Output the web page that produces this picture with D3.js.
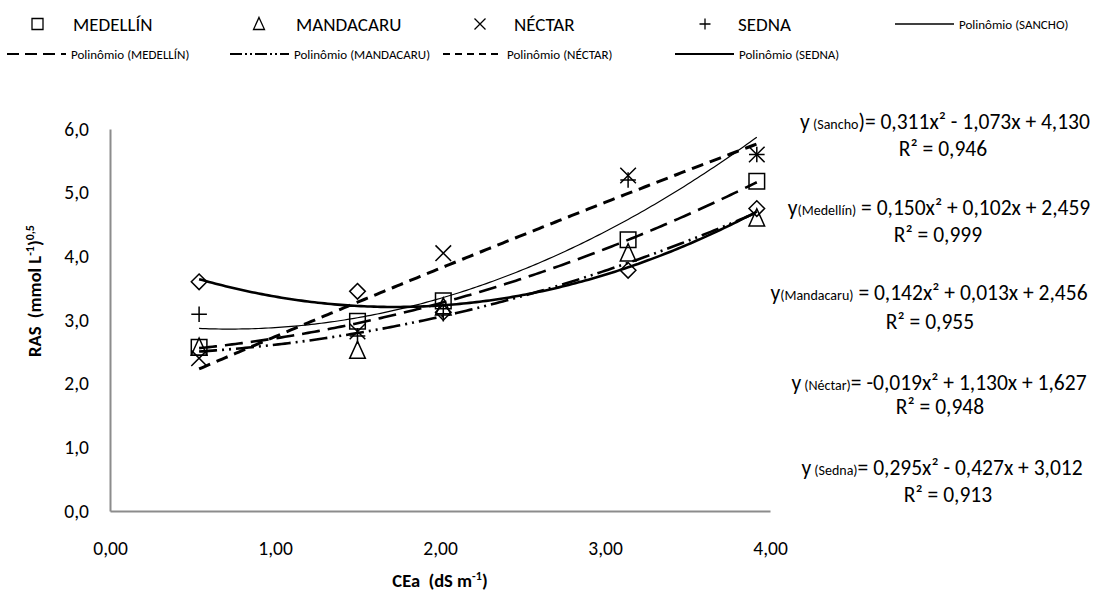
<!DOCTYPE html>
<html>
<head>
<meta charset="utf-8">
<script src="https://cdn.jsdelivr.net/npm/d3@7"></script>
<style>
  body { margin: 0; background: #fff; }
  svg { font-family: Carlito, Lato, sans-serif; }
  text { white-space: pre; }
</style>
</head>
<body>
<div id="chart"></div>
<script>
// CEa levels (dS m-1)
const cea = [0.54, 1.50, 2.02, 3.14, 3.92];

// RAS values
const medellin  = [2.57, 2.98, 3.30, 4.26, 5.18];
const mandacaru = [2.57, 2.52, 3.20, 4.05, 4.60];
const nectar    = [2.40, 2.82, 4.05, 5.27, 5.60];
const sedna     = [3.09, 2.75, 3.10, 5.20, 5.60];
const sancho    = [3.60, 3.45, 3.12, 3.78, 4.75];

// trendline coefficients [a, b, c] for y = a x^2 + b x + c
const coefSancho    = [0.311, -1.073, 4.130];
const coefMedellin  = [0.150, 0.102, 2.459];
const coefMandacaru = [0.142, 0.013, 2.456];
const coefNectar    = [-0.019, 1.130, 1.627];
const coefSedna     = [0.295, -0.427, 3.012];

const xTicks = [0, 1, 2, 3, 4];
const yTicks = [0, 1, 2, 3, 4, 5, 6];

const width = 1105, height = 591;
const x0 = 110, x1 = 770, yBottom = 511, yTop = 129;

const svg = d3.select("#chart").append("svg")
    .attr("width", width)
    .attr("height", height);

const xScale = d3.scaleLinear().domain([0, 4]).range([x0, x1]);
const yScale = d3.scaleLinear().domain([0, 6]).range([yBottom, yTop]);

// decimal comma, plain hyphen for minus
const comma = (f) => (v) => d3.format(f)(v).replace(".", ",").replace("−", "-");

// axes (no tick marks, gray lines)
const xAxis = svg.append("g")
    .attr("transform", `translate(0,${yBottom})`)
    .call(d3.axisBottom(xScale).tickValues(xTicks).tickFormat(comma(".2f")).tickSize(0).tickPadding(30));
const yAxis = svg.append("g")
    .attr("transform", `translate(${x0},0)`)
    .call(d3.axisLeft(yScale).tickValues(yTicks).tickFormat(comma(".1f")).tickSize(0).tickPadding(21));

[xAxis, yAxis].forEach(g => {
    g.select(".domain").attr("stroke", "#8c8c8c").attr("stroke-width", 2);
    g.selectAll("text").attr("font-family", "Carlito, Lato, sans-serif")
        .attr("font-size", 19.5).attr("fill", "#000");
});

// axis titles
const xt = svg.append("text")
    .attr("x", (x0 + x1) / 2)
    .attr("y", 587)
    .attr("text-anchor", "middle")
    .attr("font-weight", "bold")
    .attr("font-size", 18.5);
xt.append("tspan").text("CEa  (dS m");
xt.append("tspan").attr("font-size", 12).attr("baseline-shift", "super").text("-1");
xt.append("tspan").text(")");

const yt = svg.append("text")
    .attr("transform", `translate(41,291) rotate(-90)`)
    .attr("text-anchor", "middle")
    .attr("font-weight", "bold")
    .attr("font-size", 18.5);
yt.append("tspan").text("RAS  (mmol L");
yt.append("tspan").attr("font-size", 12).attr("baseline-shift", "super").text("-1");
yt.append("tspan").text(")");
yt.append("tspan").attr("font-size", 12).attr("baseline-shift", "super").text("0,5");

// trendlines
const series = [
    { name: "SANCHO", values: sancho, coef: coefSancho, dash: null, sw: 2.6, symbol: "diamond" },
    { name: "MEDELLÍN", values: medellin, coef: coefMedellin, dash: "18,8", sw: 2.6, symbol: "square" },
    { name: "MANDACARU", values: mandacaru, coef: coefMandacaru, dash: "18,5,2,5,2,5", sw: 2.6, symbol: "triangle" },
    { name: "NÉCTAR", values: nectar, coef: coefNectar, dash: "12,7", sw: 3, symbol: "x" },
    { name: "SEDNA", values: sedna, coef: coefSedna, dash: null, sw: 1.2, symbol: "plus" }
];

const poly = (c, v) => c[0] * v * v + c[1] * v + c[2];
const line = d3.line().x(d => xScale(d[0])).y(d => yScale(d[1]));
const xs = d3.range(cea[0], cea[cea.length - 1] + 0.001, 0.02);

series.forEach(s => {
    svg.append("path")
        .attr("d", line(xs.map(v => [v, poly(s.coef, v)])))
        .attr("fill", "none")
        .attr("stroke", "#000")
        .attr("stroke-width", s.sw)
        .attr("stroke-dasharray", s.dash);
});

// marker shapes
function symbolPath(type, r) {
    if (type === "square") return `M${-r},${-r}H${r}V${r}H${-r}Z`;
    if (type === "triangle") return `M0,${-r * 1.2}L${r},${r}H${-r}Z`;
    if (type === "diamond") return `M0,${-r}L${r},0L0,${r}L${-r},0Z`;
    if (type === "x") return `M${-r},${-r}L${r},${r}M${r},${-r}L${-r},${r}`;
    if (type === "plus") return `M${-r},0H${r}M0,${-r}V${r}`;
}

series.forEach(s => {
    svg.append("g").selectAll("path")
        .data(s.values)
        .enter().append("path")
        .attr("transform", (d, i) => `translate(${xScale(cea[i])},${yScale(d)})`)
        .attr("d", symbolPath(s.symbol, 7.8))
        .attr("fill", "none")
        .attr("stroke", "#000")
        .attr("stroke-width", 1.5);
});

// legend row 1: markers
const legendMarkers = [
    { symbol: "square", label: "MEDELLÍN", mx: 37.5, tx: 73 },
    { symbol: "triangle", label: "MANDACARU", mx: 259, tx: 296 },
    { symbol: "x", label: "NÉCTAR", mx: 480, tx: 514 },
    { symbol: "plus", label: "SEDNA", mx: 705, tx: 738 }
];
legendMarkers.forEach(m => {
    svg.append("path")
        .attr("transform", `translate(${m.mx},24)`)
        .attr("d", symbolPath(m.symbol, 5.5))
        .attr("fill", "none")
        .attr("stroke", "#000")
        .attr("stroke-width", 1.3);
    svg.append("text")
        .attr("x", m.tx).attr("y", 30.5)
        .attr("font-size", 19)
        .text(m.label);
});

// legend trendline entries
const legendLines = [
    { label: "Polinômio (SANCHO)", dash: null, sw: 1.3, lx: 895, y: 24 },
    { label: "Polinômio (MEDELLÍN)", dash: "12,6", sw: 2, lx: 7, y: 54 },
    { label: "Polinômio (MANDACARU)", dash: "12,3,2,3,2,3", sw: 2, lx: 230, y: 54 },
    { label: "Polinômio (NÉCTAR)", dash: "7,5", sw: 2, lx: 443, y: 54 },
    { label: "Polinômio (SEDNA)", dash: null, sw: 1.8, lx: 675, y: 54 }
];
legendLines.forEach(l => {
    svg.append("line")
        .attr("x1", l.lx).attr("x2", l.lx + 59)
        .attr("y1", l.y).attr("y2", l.y)
        .attr("stroke", "#000")
        .attr("stroke-width", l.sw)
        .attr("stroke-dasharray", l.dash);
    svg.append("text")
        .attr("x", l.lx + 64).attr("y", l.y + 4.5)
        .attr("font-size", 13)
        .text(l.label);
});

// trendline equations
const eqNames = ["Sancho", "Medellín", "Mandacaru", "Néctar", "Sedna"];
const eqSpaced = [true, false, false, true, true];
const eqR2 = [0.946, 0.999, 0.955, 0.948, 0.913];
const eqCoefs = [coefSancho, coefMedellin, coefMandacaru, coefNectar, coefSedna];
const eqPos = [[945, 129, 943, 156], [939, 215, 938, 242], [929, 300, 930, 329],
               [939, 390, 940, 414], [942, 475, 948, 502]];

const f3 = comma(".3f");
eqNames.forEach((n, i) => {
    const c = eqCoefs[i];
    const [cx, cy, rx, ry] = eqPos[i];
    const t = svg.append("text")
        .attr("x", cx).attr("y", cy)
        .attr("text-anchor", "middle")
        .attr("font-size", 21.5);
    t.append("tspan").text("y");
    t.append("tspan").attr("font-size", 14)
        .text((eqSpaced[i] ? " (" : "(") + n + (i === 0 ? "" : ")"));
    const sign = (v) => v < 0 ? " - " + f3(-v) : " + " + f3(v);
    t.append("tspan").text((i === 0 ? ")" : "") + (eqSpaced[i] ? "= " : " = ") +
        f3(c[0]) + "x²" + sign(c[1]) + "x" + sign(c[2]));
    svg.append("text")
        .attr("x", rx).attr("y", ry)
        .attr("text-anchor", "middle")
        .attr("font-size", 21.5)
        .text("R² = " + f3(eqR2[i]));
});
</script>
</body>
</html>
